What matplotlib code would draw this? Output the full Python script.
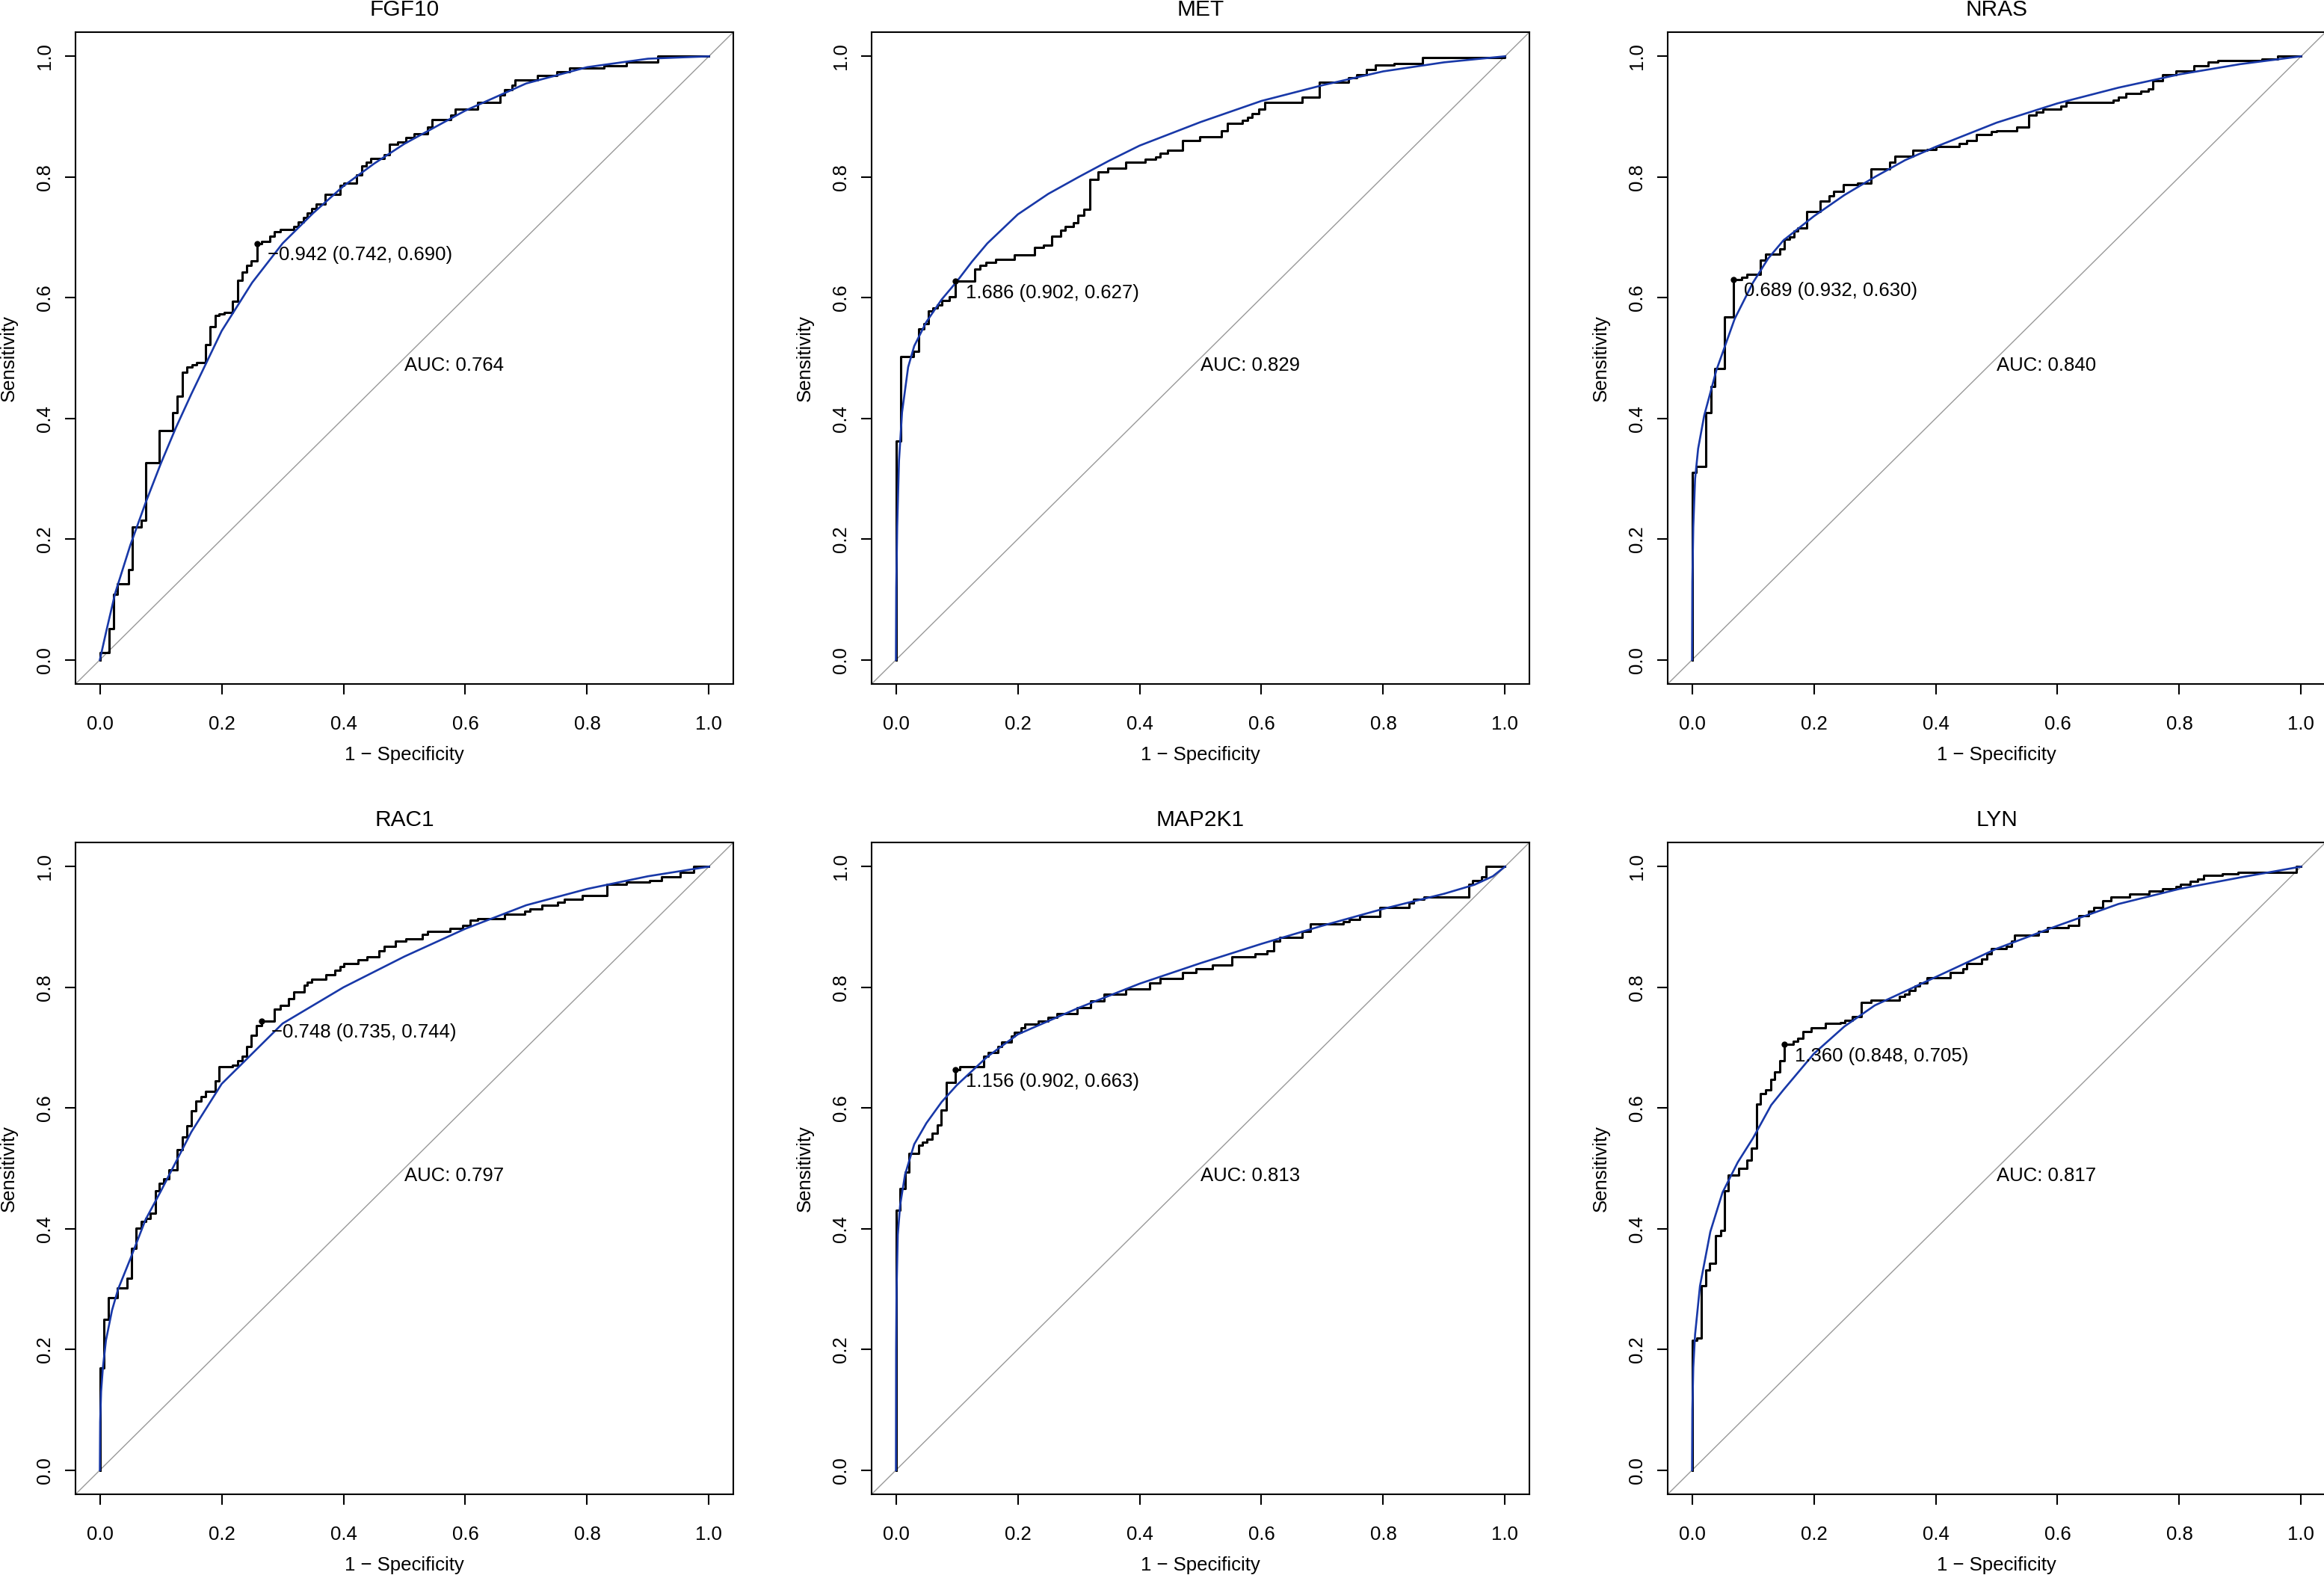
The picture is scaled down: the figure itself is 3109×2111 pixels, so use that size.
import numpy as np
import matplotlib.pyplot as plt
from matplotlib.ticker import FormatStrFormatter

plt.rcParams['font.family'] = ['Liberation Sans', 'DejaVu Sans']

# ---- data (1 - specificity, sensitivity) ----
genes = ['FGF10', 'MET', 'NRAS', 'RAC1', 'MAP2K1', 'LYN']
auc = [0.764, 0.829, 0.840, 0.797, 0.813, 0.817]
thr = [-0.942, 1.686, 0.689, -0.748, 1.156, 1.360]
thr_spec = [0.742, 0.902, 0.932, 0.735, 0.902, 0.848]
thr_sens = [0.690, 0.627, 0.630, 0.744, 0.663, 0.705]

# empirical curves: fpr where sensitivity jumps, sensitivity after the jump
fgf10_fpr = [0, 0, 0.0155, 0.022, 0.029, 0.047, 0.053, 0.068, 0.075, 0.097, 0.119, 0.127, 0.136,
             0.143, 0.151, 0.159, 0.174, 0.181, 0.189, 0.196, 0.204, 0.218, 0.226, 0.234, 0.241,
             0.248, 0.258, 0.265, 0.279, 0.287, 0.296, 0.318, 0.326, 0.334, 0.341, 0.348, 0.355,
             0.370, 0.394, 0.401, 0.422, 0.430, 0.438, 0.445, 0.467, 0.475, 0.489, 0.502, 0.516,
             0.538, 0.546, 0.576, 0.584, 0.620, 0.657, 0.665, 0.677, 0.682, 0.718, 0.750, 0.771,
             0.828, 0.865, 0.916, 1.0]
fgf10_tpr = [0, 0.012, 0.052, 0.109, 0.126, 0.149, 0.220, 0.231, 0.326, 0.380, 0.410, 0.437, 0.477,
             0.485, 0.489, 0.493, 0.522, 0.552, 0.570, 0.573, 0.576, 0.594, 0.629, 0.642, 0.653,
             0.661, 0.690, 0.693, 0.702, 0.709, 0.713, 0.718, 0.725, 0.733, 0.740, 0.748, 0.755,
             0.771, 0.786, 0.790, 0.804, 0.818, 0.825, 0.831, 0.837, 0.854, 0.858, 0.865, 0.872,
             0.883, 0.895, 0.903, 0.912, 0.924, 0.936, 0.945, 0.952, 0.961, 0.968, 0.974, 0.980,
             0.984, 0.990, 1.0, 1.0]

met_fpr = [0, 0, 0.0075, 0.029, 0.037, 0.046, 0.053, 0.061, 0.068, 0.075, 0.088, 0.098, 0.129,
           0.138, 0.148, 0.164, 0.195, 0.227, 0.242, 0.256, 0.270, 0.278, 0.291, 0.299, 0.309,
           0.318, 0.332, 0.348, 0.377, 0.409, 0.426, 0.434, 0.446, 0.471, 0.499, 0.534, 0.544,
           0.569, 0.577, 0.585, 0.596, 0.605, 0.667, 0.695, 0.743, 0.757, 0.773, 0.787, 0.818,
           0.864, 1.0]
met_tpr = [0, 0.362, 0.502, 0.511, 0.548, 0.557, 0.578, 0.583, 0.588, 0.595, 0.601, 0.627, 0.648,
           0.653, 0.658, 0.663, 0.671, 0.683, 0.687, 0.702, 0.712, 0.718, 0.724, 0.737, 0.747,
           0.796, 0.808, 0.814, 0.825, 0.829, 0.833, 0.839, 0.844, 0.860, 0.866, 0.877, 0.889,
           0.894, 0.899, 0.905, 0.913, 0.924, 0.932, 0.957, 0.965, 0.969, 0.978, 0.986, 0.988,
           0.998, 1.0]

nras_fpr = [0, 0, 0.0065, 0.023, 0.031, 0.0375, 0.053, 0.068, 0.082, 0.0905, 0.1126, 0.121,
            0.1436, 0.152, 0.160, 0.167, 0.174, 0.188, 0.210, 0.225, 0.233, 0.249, 0.272, 0.294,
            0.325, 0.333, 0.363, 0.386, 0.400, 0.439, 0.451, 0.467, 0.492, 0.500, 0.533, 0.553,
            0.565, 0.576, 0.606, 0.614, 0.692, 0.700, 0.712, 0.737, 0.749, 0.757, 0.772, 0.794,
            0.824, 0.847, 0.863, 0.936, 0.961, 1.0]
nras_tpr = [0, 0.311, 0.320, 0.410, 0.453, 0.483, 0.568, 0.630, 0.634, 0.639, 0.662, 0.672,
            0.681, 0.697, 0.701, 0.710, 0.716, 0.743, 0.760, 0.769, 0.776, 0.787, 0.790, 0.813,
            0.824, 0.834, 0.844, 0.846, 0.850, 0.856, 0.861, 0.870, 0.875, 0.877, 0.883, 0.903,
            0.908, 0.912, 0.917, 0.923, 0.927, 0.932, 0.938, 0.942, 0.946, 0.960, 0.969, 0.976,
            0.984, 0.990, 0.993, 0.996, 1.0, 1.0]

rac1_fpr = [0, 0, 0.0065, 0.014, 0.029, 0.045, 0.052, 0.060, 0.068, 0.075, 0.083, 0.091, 0.098,
            0.105, 0.114, 0.127, 0.136, 0.143, 0.150, 0.158, 0.166, 0.174, 0.189, 0.196, 0.218,
            0.226, 0.234, 0.241, 0.248, 0.257, 0.265, 0.287, 0.296, 0.310, 0.318, 0.335, 0.340,
            0.348, 0.371, 0.386, 0.394, 0.401, 0.424, 0.439, 0.458, 0.467, 0.485, 0.502, 0.529,
            0.538, 0.575, 0.596, 0.608, 0.620, 0.665, 0.698, 0.706, 0.726, 0.751, 0.763, 0.792,
            0.833, 0.864, 0.902, 0.922, 0.953, 0.975, 1.0]
rac1_tpr = [0, 0.169, 0.250, 0.286, 0.302, 0.318, 0.368, 0.401, 0.412, 0.417, 0.426, 0.463, 0.475,
            0.483, 0.498, 0.531, 0.552, 0.570, 0.595, 0.612, 0.619, 0.628, 0.645, 0.668, 0.671,
            0.678, 0.686, 0.702, 0.721, 0.736, 0.744, 0.764, 0.770, 0.781, 0.792, 0.803, 0.808,
            0.813, 0.821, 0.828, 0.835, 0.839, 0.845, 0.851, 0.861, 0.868, 0.876, 0.880, 0.888,
            0.893, 0.898, 0.902, 0.911, 0.914, 0.921, 0.926, 0.930, 0.936, 0.941, 0.946, 0.952,
            0.971, 0.974, 0.977, 0.983, 0.990, 1.0, 1.0]

map2k1_fpr = [0, 0, 0.0065, 0.0147, 0.021, 0.0376, 0.043, 0.051, 0.060, 0.068, 0.074, 0.083,
              0.098, 0.105, 0.121, 0.144, 0.152, 0.167, 0.174, 0.189, 0.195, 0.205, 0.212, 0.234,
              0.250, 0.264, 0.297, 0.319, 0.342, 0.377, 0.417, 0.434, 0.471, 0.493, 0.520, 0.552,
              0.589, 0.609, 0.620, 0.630, 0.667, 0.681, 0.734, 0.744, 0.761, 0.795, 0.842, 0.850,
              0.867, 0.940, 0.947, 0.961, 0.969, 1.0]
map2k1_tpr = [0, 0.431, 0.467, 0.494, 0.525, 0.539, 0.543, 0.548, 0.558, 0.572, 0.597, 0.642,
              0.663, 0.668, 0.669, 0.686, 0.692, 0.702, 0.709, 0.719, 0.726, 0.733, 0.739, 0.744,
              0.750, 0.756, 0.766, 0.777, 0.789, 0.797, 0.807, 0.814, 0.825, 0.831, 0.837, 0.850,
              0.855, 0.861, 0.876, 0.883, 0.893, 0.905, 0.909, 0.913, 0.917, 0.932, 0.940, 0.946,
              0.949, 0.971, 0.977, 0.983, 1.0, 1.0]

lyn_fpr = [0, 0, 0.008, 0.0147, 0.023, 0.029, 0.039, 0.047, 0.053, 0.060, 0.076, 0.0905, 0.098,
           0.106, 0.1126, 0.121, 0.129, 0.135, 0.1436, 0.152, 0.166, 0.174, 0.182, 0.196, 0.219,
           0.243, 0.251, 0.263, 0.278, 0.294, 0.341, 0.349, 0.357, 0.366, 0.374, 0.386, 0.424,
           0.445, 0.451, 0.476, 0.484, 0.492, 0.516, 0.525, 0.529, 0.569, 0.584, 0.618, 0.635,
           0.651, 0.659, 0.674, 0.688, 0.718, 0.750, 0.773, 0.794, 0.802, 0.818, 0.830, 0.840,
           0.871, 0.896, 0.992, 1.0]
lyn_tpr = [0, 0.215, 0.219, 0.306, 0.332, 0.343, 0.388, 0.397, 0.463, 0.489, 0.500, 0.514, 0.533,
           0.607, 0.624, 0.630, 0.647, 0.660, 0.678, 0.705, 0.711, 0.715, 0.727, 0.733, 0.740,
           0.742, 0.745, 0.752, 0.775, 0.779, 0.785, 0.789, 0.795, 0.802, 0.807, 0.816, 0.825,
           0.831, 0.839, 0.847, 0.855, 0.864, 0.868, 0.876, 0.886, 0.893, 0.899, 0.903, 0.919,
           0.926, 0.932, 0.944, 0.950, 0.955, 0.959, 0.963, 0.967, 0.971, 0.975, 0.979, 0.985,
           0.988, 0.990, 1.0, 1.0]

# smoothed (binormal) curves
fgf10_s_fpr = [0, 0.01, 0.025, 0.05, 0.075, 0.1, 0.125, 0.15, 0.2, 0.25, 0.3, 0.35, 0.4, 0.45,
               0.5, 0.6, 0.7, 0.8, 0.9, 1.0]
fgf10_s_tpr = [0, 0.045, 0.11, 0.19, 0.26, 0.325, 0.385, 0.44, 0.545, 0.625, 0.69, 0.74, 0.785,
               0.822, 0.855, 0.91, 0.955, 0.982, 0.996, 1.0]

met_s_fpr = [0, 0.0005, 0.002, 0.005, 0.01, 0.02, 0.03, 0.05, 0.075, 0.1, 0.125, 0.15, 0.2,
             0.25, 0.3, 0.35, 0.4, 0.5, 0.6, 0.7, 0.8, 0.9, 1.0]
met_s_tpr = [0, 0.12, 0.22, 0.33, 0.41, 0.485, 0.52, 0.56, 0.597, 0.627, 0.66, 0.69, 0.738,
             0.772, 0.80, 0.827, 0.852, 0.891, 0.926, 0.952, 0.975, 0.99, 1.0]

nras_s_fpr = [0, 0.0005, 0.002, 0.005, 0.01, 0.02, 0.04, 0.07, 0.1, 0.125, 0.15, 0.2, 0.25, 0.3,
              0.35, 0.4, 0.5, 0.6, 0.7, 0.8, 0.9, 1.0]
nras_s_tpr = [0, 0.13, 0.22, 0.30, 0.35, 0.405, 0.48, 0.565, 0.625, 0.665, 0.695, 0.735, 0.77,
              0.80, 0.828, 0.85, 0.89, 0.922, 0.948, 0.97, 0.987, 1.0]

rac1_s_fpr = [0, 0.0005, 0.002, 0.005, 0.01, 0.02, 0.03, 0.05, 0.075, 0.1, 0.15, 0.2, 0.25, 0.3,
              0.4, 0.5, 0.6, 0.7, 0.8, 0.9, 1.0]
rac1_s_tpr = [0, 0.08, 0.13, 0.17, 0.215, 0.265, 0.30, 0.35, 0.415, 0.462, 0.56, 0.64, 0.69, 0.74,
              0.80, 0.851, 0.897, 0.936, 0.963, 0.984, 1.0]

map2k1_s_fpr = [0, 0.0003, 0.001, 0.003, 0.007, 0.015, 0.03, 0.05, 0.075, 0.1, 0.15, 0.2, 0.3,
                0.4, 0.5, 0.6, 0.7, 0.8, 0.9, 0.95, 0.98, 1.0]
map2k1_s_tpr = [0, 0.2, 0.3, 0.39, 0.44, 0.49, 0.54, 0.575, 0.61, 0.638, 0.685, 0.722, 0.766,
                0.806, 0.84, 0.872, 0.902, 0.93, 0.955, 0.97, 0.984, 1.0]

lyn_s_fpr = [0, 0.0005, 0.002, 0.005, 0.013, 0.03, 0.05, 0.075, 0.1, 0.13, 0.15, 0.2, 0.25, 0.3,
             0.4, 0.5, 0.6, 0.7, 0.8, 0.9, 1.0]
lyn_s_tpr = [0, 0.1, 0.17, 0.225, 0.305, 0.395, 0.46, 0.51, 0.55, 0.605, 0.63, 0.69, 0.735, 0.77,
             0.817, 0.864, 0.902, 0.938, 0.963, 0.982, 1.0]

emp_fpr = [fgf10_fpr, met_fpr, nras_fpr, rac1_fpr, map2k1_fpr, lyn_fpr]
emp_tpr = [fgf10_tpr, met_tpr, nras_tpr, rac1_tpr, map2k1_tpr, lyn_tpr]
smo_fpr = [fgf10_s_fpr, met_s_fpr, nras_s_fpr, rac1_s_fpr, map2k1_s_fpr, lyn_s_fpr]
smo_tpr = [fgf10_s_tpr, met_s_tpr, nras_s_tpr, rac1_s_tpr, map2k1_s_tpr, lyn_s_tpr]

# ---- layout (pixel positions of the plot boxes) ----
W_PX, H_PX = 3109, 2111
box_w, box_h = 880, 872
lefts = [101, 1166, 2231]
bottoms = [H_PX - 915, H_PX - 1999]

blue = '#1838a8'
fs = 18.5

fig = plt.figure(figsize=(W_PX / 100, H_PX / 100), dpi=100)

for i, gene in enumerate(genes):
    r, c = divmod(i, 3)
    ax = fig.add_axes([lefts[c] / W_PX, bottoms[r] / H_PX, box_w / W_PX, box_h / H_PX])

    ax.axline((0, 0), (1, 1), color='#999999', lw=1.0, zorder=1)
    ax.step(emp_fpr[i], emp_tpr[i], where='post', color='black', lw=2.2, zorder=2)
    ax.plot(smo_fpr[i], smo_tpr[i], color=blue, lw=1.9, zorder=3)

    # best threshold point and its label (R prints the minus as a real minus sign)
    px, py = 1 - thr_spec[i], thr_sens[i]
    ax.plot([px], [py], 'o', color='black', ms=5, zorder=4)
    label = '%.3f (%.3f, %.3f)' % (thr[i], thr_spec[i], thr_sens[i])
    ax.annotate(label.replace('-', '\u2212'), (px, py),
                xytext=(10, -11), textcoords='offset points', ha='left', va='center',
                fontsize=fs, zorder=5)
    ax.text(0.5, 0.487, 'AUC: %.3f' % auc[i], ha='left', va='center', fontsize=fs)

    ax.set_xlim(-0.04, 1.04)
    ax.set_ylim(-0.04, 1.04)
    ticks = np.arange(0, 1.01, 0.2)
    ax.set_xticks(ticks)
    ax.set_yticks(ticks)
    ax.xaxis.set_major_formatter(FormatStrFormatter('%.1f'))
    ax.yaxis.set_major_formatter(FormatStrFormatter('%.1f'))
    ax.tick_params(length=10, width=1.5, labelsize=fs, direction='out')
    ax.tick_params(axis='x', pad=20.5)
    ax.tick_params(axis='y', pad=11, labelrotation=90)
    plt.setp(ax.get_yticklabels(), va='center')
    for sp in ax.spines.values():
        sp.set_linewidth(1.5)

    ax.set_xlabel('1 \u2212 Specificity', fontsize=fs)
    ax.set_ylabel('Sensitivity', fontsize=fs)
    ax.xaxis.label.set_va('center')
    ax.yaxis.label.set_va('center')
    ax.xaxis.set_label_coords(0.5, -95 / box_h)
    ax.yaxis.set_label_coords(-89 / box_w, 0.5)
    ax.set_title(gene, fontsize=21.5, y=1 + 30 / box_h, va='center', pad=0)

fig.savefig('out.png', dpi=100)
